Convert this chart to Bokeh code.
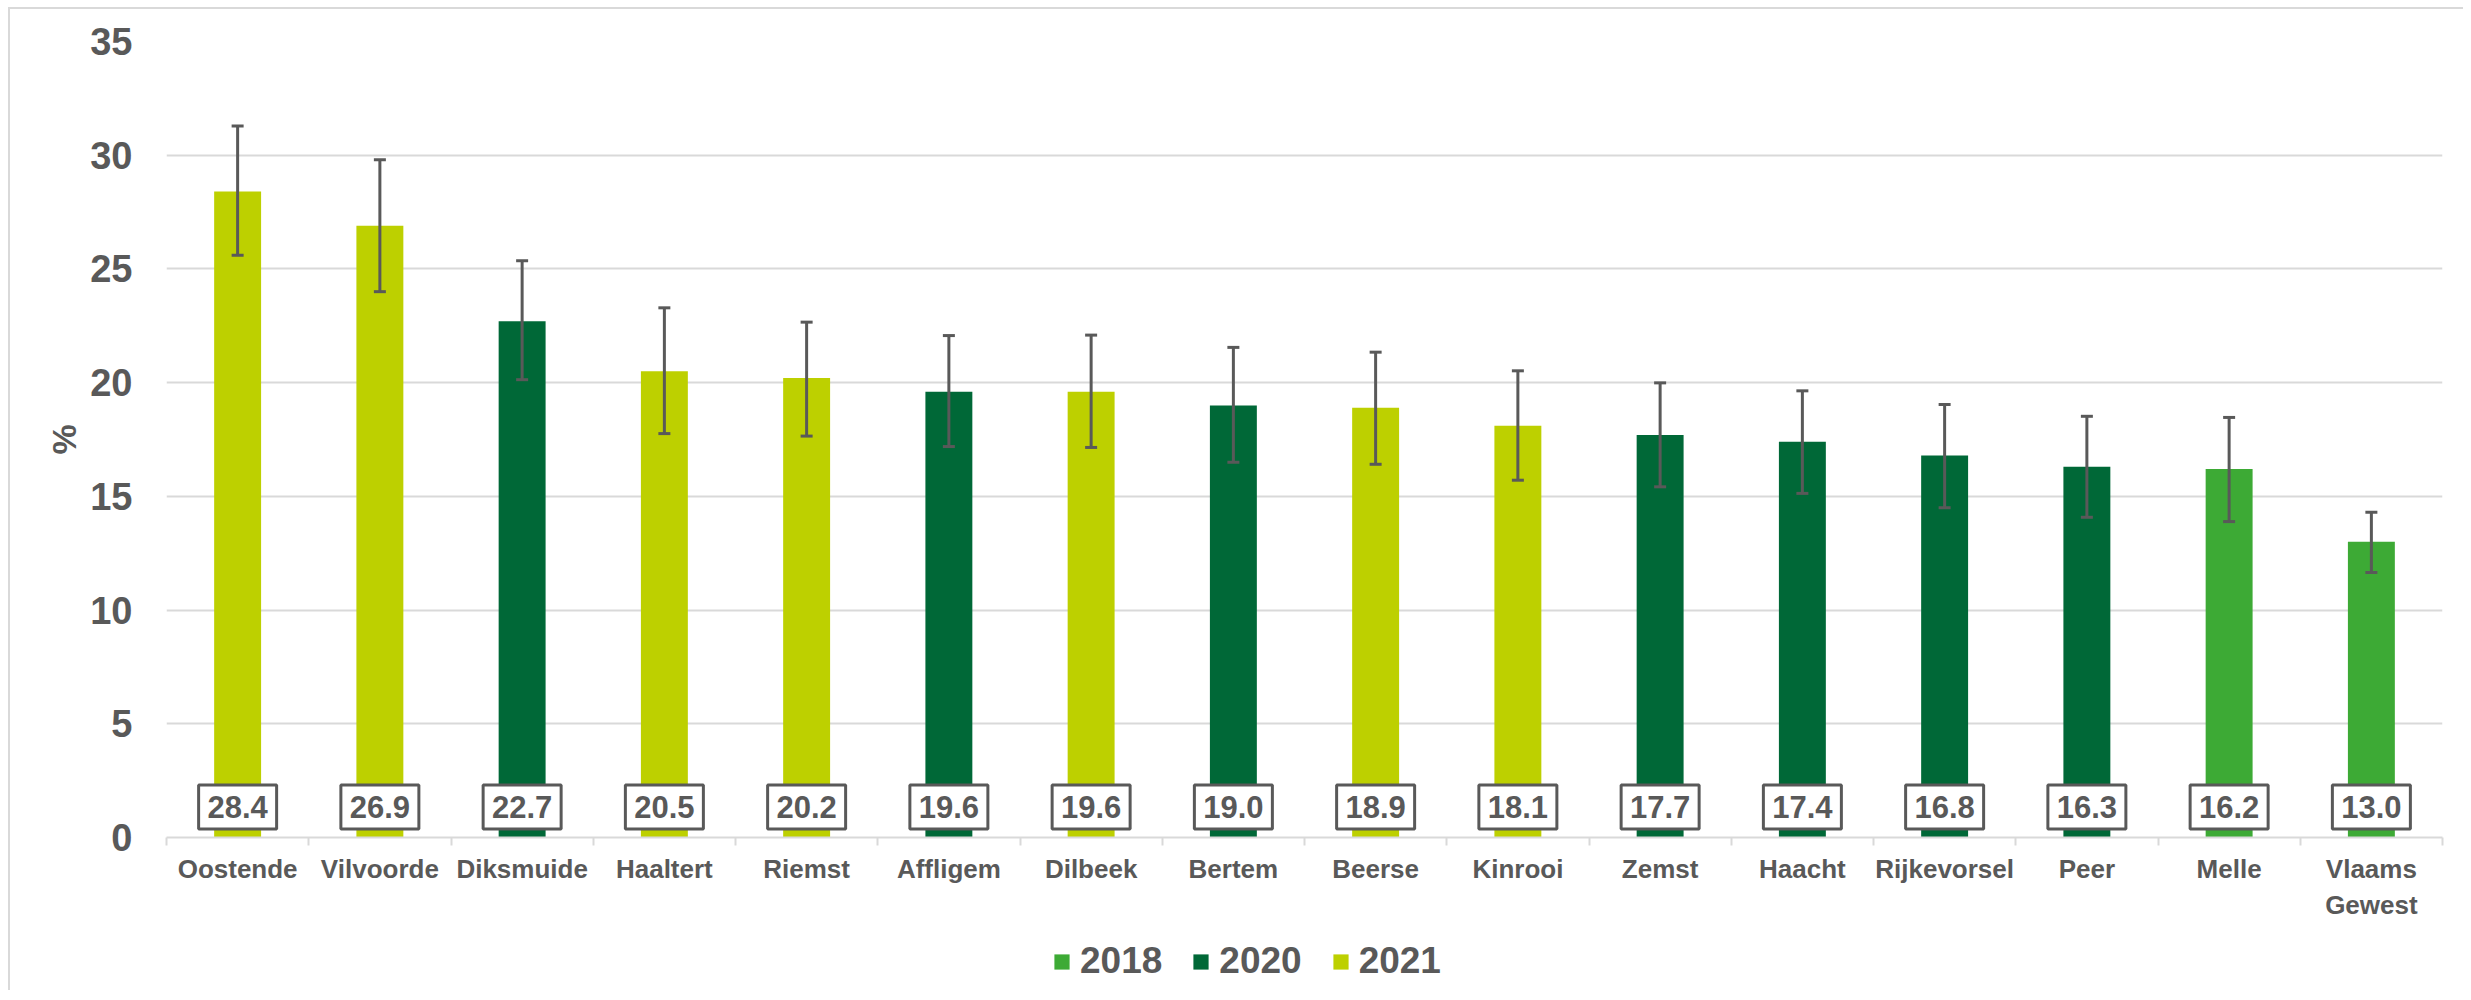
from bokeh.plotting import figure
from bokeh.layouts import column
from bokeh.models import (ColumnDataSource, FixedTicker, LinearAxis, Legend, LegendItem,
                          Whisker, TeeHead, Range1d)
from bokeh.embed import file_html
from bokeh.resources import INLINE
from bokeh.core.properties import value

# ---------------- data ----------------
categories = ["Oostende", "Vilvoorde", "Diksmuide", "Haaltert", "Riemst", "Affligem",
              "Dilbeek", "Bertem", "Beerse", "Kinrooi", "Zemst", "Haacht",
              "Rijkevorsel", "Peer", "Melle", "Vlaams Gewest"]
values = [28.4, 26.9, 22.7, 20.5, 20.2, 19.6, 19.6, 19.0, 18.9, 18.1, 17.7, 17.4,
          16.8, 16.3, 16.2, 13.0]
ci_upper = [31.28, 29.8, 25.36, 23.29, 22.66, 22.07, 22.09, 21.55, 21.34, 20.52,
            19.99, 19.64, 19.04, 18.52, 18.47, 14.3]
ci_lower = [25.6, 24.0, 20.13, 17.76, 17.65, 17.19, 17.15, 16.5, 16.41, 15.71,
            15.42, 15.13, 14.5, 14.08, 13.89, 11.65]
years = ["2021", "2021", "2020", "2021", "2021", "2020", "2021", "2020", "2021",
         "2021", "2020", "2020", "2020", "2020", "2018", "2018"]
legend_years = ["2018", "2020", "2021"]
y_ticks = [0, 5, 10, 15, 20, 25, 30, 35]
y_axis_label = "%"

# ---------------- styles ----------------
year_colors = {"2018": "#3DAA35", "2020": "#006837", "2021": "#BDD000"}
TXT = "#595959"
GRID = "#D9D9D9"
FONT = "Liberation Sans"
LABEL_Y = 1.34  # vertical position of the value boxes (data units)
TOTAL_W = 2453

n = len(categories)
xs = [i + 0.5 for i in range(n)]

p = figure(frame_width=2276, frame_height=796, output_backend="svg", toolbar_location=None,
           x_range=Range1d(0, n), y_range=Range1d(0, 35),
           min_border_left=156, min_border_right=21, min_border_top=32,
           min_border_bottom=93, outline_line_color=None,
           background_fill_color="white", border_fill_color="white")

p.xaxis.visible = False
p.xgrid.grid_line_color = None
p.ygrid.grid_line_color = GRID
p.ygrid.grid_line_width = 2
p.ygrid.ticker = FixedTicker(ticks=y_ticks)

# y axis
yax = p.yaxis[0]
yax.ticker = FixedTicker(ticks=y_ticks)
yax.axis_line_color = None
yax.major_tick_line_color = None
yax.minor_tick_line_color = None
yax.major_label_standoff = 28
yax.major_label_text_font = FONT
yax.major_label_text_font_style = "bold"
yax.major_label_text_font_size = "38px"
yax.major_label_text_color = TXT
yax.axis_label = y_axis_label
yax.axis_label_text_font = FONT
yax.axis_label_text_font_style = "bold"
yax.axis_label_text_font_size = "34px"
yax.axis_label_text_color = TXT
yax.axis_label_standoff = 4

# bars per year
year_sources = {}
for yr in legend_years:
    idx = [i for i in range(n) if years[i] == yr]
    src = ColumnDataSource(dict(x=[xs[i] for i in idx], top=[values[i] for i in idx]))
    year_sources[yr] = src
    p.vbar(x="x", top="top", width=0.33, source=src,
           fill_color=year_colors[yr], line_color=None)

# error bars
err_src = ColumnDataSource(dict(x=xs, upper=ci_upper, lower=ci_lower))
head = dict(size=12, line_width=3, line_color=TXT)
p.add_layout(Whisker(source=err_src, base="x", upper="upper", lower="lower",
                     line_color=TXT, line_width=3, level="overlay",
                     upper_head=TeeHead(**head), lower_head=TeeHead(**head)))

# value boxes
lab_src = ColumnDataSource(dict(x=xs, y=[LABEL_Y] * n,
                                text=["%.1f" % v for v in values]))
p.rect(x="x", y="y", width=78, height=44, width_units="screen", height_units="screen",
       source=lab_src, fill_color="white", line_color=TXT, line_width=3)
p.text(x="x", y="y", text="text", source=lab_src, text_align="center",
       text_baseline="middle", text_font=value(FONT), text_font_style="bold",
       text_font_size="31px", text_color=TXT)

# x axis: boundary ticks
tick_axis = LinearAxis(ticker=FixedTicker(ticks=list(range(n + 1))),
                       axis_line_color=GRID, axis_line_width=2,
                       major_tick_line_color=GRID, major_tick_line_width=2,
                       major_tick_out=8, major_tick_in=0,
                       minor_tick_line_color=None,
                       major_label_standoff=0, major_label_text_font_size="1px",
                       major_label_text_color=None,
                       major_label_overrides={i: "" for i in range(n + 1)})
p.add_layout(tick_axis, "below")

# x axis: category labels
overrides = {x: c.replace(" ", "\n") for x, c in zip(xs, categories)}
label_axis = LinearAxis(ticker=FixedTicker(ticks=xs), axis_line_color=None,
                        major_tick_line_color=None, minor_tick_line_color=None,
                        major_tick_out=0, major_tick_in=0, major_label_standoff=8,
                        major_label_text_font=FONT, major_label_text_font_style="bold",
                        major_label_text_font_size="26px", major_label_text_color=TXT,
                        major_label_overrides=overrides)
p.add_layout(label_axis, "below")

# ---------------- legend strip (frame aligned with the chart frame) ----------------
q = figure(width=TOTAL_W, height=60, output_backend="svg", toolbar_location=None,
           x_range=Range1d(10 * n, 11 * n), y_range=Range1d(0, 35),
           min_border_left=0, min_border_right=0, min_border_top=0, min_border_bottom=0,
           outline_line_color=None, background_fill_color="white",
           border_fill_color="white")
q.axis.visible = False
q.grid.visible = False
legend_items = []
for yr in legend_years:
    # zero-height bars outside this strip's x range: only their legend swatch shows
    r = q.vbar(x="x", top=0, bottom=0, width=0.33, source=year_sources[yr],
               fill_color=year_colors[yr], line_color=None)
    legend_items.append(LegendItem(label=yr, renderers=[r]))
legend = Legend(items=legend_items, orientation="horizontal", location=(886, 8),
                glyph_width=19, glyph_height=19, label_standoff=9, spacing=29,
                padding=0, margin=0, border_line_color=None, background_fill_alpha=0,
                label_text_font=FONT, label_text_font_style="bold",
                label_text_font_size="37px", label_text_color=TXT)
q.add_layout(legend, "center")

layout = column(p, q, spacing=0)
layout.styles = {"margin": "7px 0px 0px 8px",
                 "border-top": "2px solid #D9D9D9", "border-left": "2px solid #D9D9D9"}

open("out.html", "w").write(file_html(layout, INLINE))
